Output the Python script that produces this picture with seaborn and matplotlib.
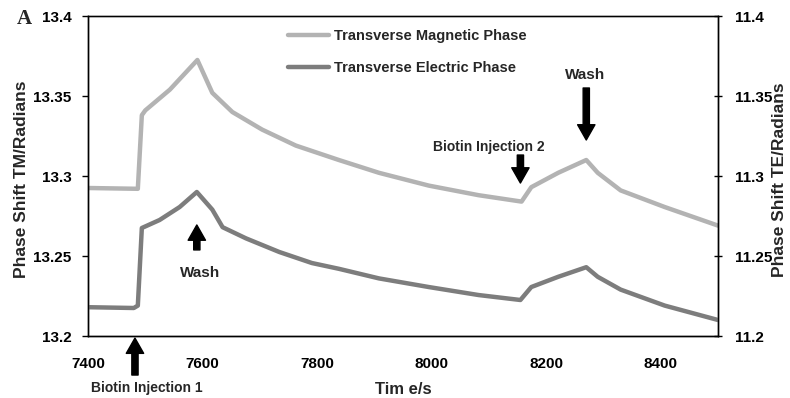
import numpy as np
import pandas as pd
import matplotlib
matplotlib.use("Agg")
import matplotlib.pyplot as plt
import seaborn as sns
from matplotlib.lines import Line2D

# ---- data ----
time_tm = [7400, 7487, 7494, 7500, 7543, 7591, 7617, 7652, 7704, 7763, 7838,
           7908, 7995, 8082, 8157, 8174, 8221, 8270, 8290, 8330, 8407, 8500]
phase_tm = [13.2925, 13.2920, 13.338, 13.341, 13.354, 13.3725, 13.352, 13.340,
            13.329, 13.319, 13.310, 13.302, 13.294, 13.288, 13.284, 13.293,
            13.302, 13.310, 13.302, 13.291, 13.2806, 13.269]

time_te = [7400, 7480, 7487, 7494, 7525, 7560, 7590, 7617, 7635, 7676, 7734,
           7791, 7838, 7908, 7995, 8082, 8155, 8174, 8221, 8270, 8290, 8330,
           8407, 8500]
phase_te = [11.218, 11.2175, 11.219, 11.2675, 11.2725, 11.2806, 11.290, 11.279,
            11.268, 11.261, 11.2525, 11.2456, 11.242, 11.236, 11.2306, 11.2256,
            11.2225, 11.2306, 11.237, 11.243, 11.237, 11.229, 11.219, 11.210]

series_labels = ["Transverse Magnetic Phase", "Transverse Electric Phase"]
x_ticks = [7400, 7600, 7800, 8000, 8200, 8400]
yl_ticks = [13.2, 13.25, 13.3, 13.35, 13.4]
yr_ticks = [11.2, 11.25, 11.3, 11.35, 11.4]
yl_ticklabels = ["13.2", "13.25", "13.3", "13.35", "13.4"]
yr_ticklabels = ["11.2", "11.25", "11.3", "11.35", "11.4"]

df_tm = pd.DataFrame({"t": time_tm, "p": phase_tm})
df_te = pd.DataFrame({"t": time_te, "p": phase_te})

sns.set_style("white")
FONT = ["Liberation Sans", "DejaVu Sans"]
plt.rcParams["font.family"] = FONT

C_TM = "#b3b3b3"
C_TE = "#7d7d7d"
LW = 3.2

fig = plt.figure(figsize=(7.9, 3.98), dpi=100)
ax = fig.add_axes([88/790, 1-336/398, 630/790, 320/398])
ax2 = ax.twinx()

sns.lineplot(data=df_tm, x="t", y="p", ax=ax, color=C_TM, linewidth=LW,
             legend=False, estimator=None, sort=False)
sns.lineplot(data=df_te, x="t", y="p", ax=ax2, color=C_TE, linewidth=LW,
             legend=False, estimator=None, sort=False)

ax.set_xlim(7400, 8500)
ax.set_ylim(13.2, 13.4)
ax2.set_ylim(11.2, 11.4)
ax.set_xticks(x_ticks)
ax.set_xticklabels([str(v) for v in x_ticks])
ax.set_yticks(yl_ticks)
ax.set_yticklabels(yl_ticklabels)
ax2.set_yticks(yr_ticks)
ax2.set_yticklabels(yr_ticklabels)

for lab in ax.get_xticklabels() + ax.get_yticklabels() + ax2.get_yticklabels():
    lab.set_fontsize(11)
    lab.set_fontweight("bold")

ax.tick_params(axis="y", direction="out", length=4, width=1, pad=8, colors="black")
ax.tick_params(axis="x", direction="out", length=4, width=1, pad=11, colors="black")
ax2.tick_params(axis="y", direction="inout", length=6, width=1, pad=9, colors="black")

for a in (ax, ax2):
    for s in a.spines.values():
        s.set_visible(True)
        s.set_color("black")
        s.set_linewidth(1.0)
ax.spines["top"].set_color("#444444")

ax.set_xlabel("Tim e/s", fontsize=12, fontweight="bold")
ax.xaxis.set_label_coords(0.5, (336-382)/320)
ax.set_ylabel("Phase Shift TM/Radians", fontsize=12.5, fontweight="bold")
ax.yaxis.set_label_coords((29-88)/630, 0.49)
ax2.set_ylabel("Phase Shift TE/Radians", fontsize=12.5, fontweight="bold")
ax2.yaxis.set_label_coords((772-88)/630, 0.49)

# legend
handles = [Line2D([], [], color=C_TM, linewidth=LW),
           Line2D([], [], color=C_TE, linewidth=LW)]
ax2.legend(handles, series_labels, loc="upper left",
           bbox_to_anchor=(288/790, 1-29/398), bbox_transform=fig.transFigure,
           frameon=False, handlelength=2.8, handletextpad=0.35,
           labelspacing=1.25, borderpad=0, borderaxespad=0,
           prop=dict(family=FONT, size=10.5, weight="bold"))

# arrows and annotation text
arrow_kw = dict(facecolor="black", edgecolor="black", width=4.5,
                headwidth=12.5, headlength=11, shrink=0)
bio_font = dict(fontsize=10, fontweight="bold", ha="center", va="center")
wash_font = dict(fontsize=11, fontweight="bold", ha="center", va="center")

ax.annotate("", xy=(7482, 13.1987), xytext=(7482, 13.1756),
            arrowprops=arrow_kw, annotation_clip=False)
ax.text(7503, 13.1675, "Biotin Injection 1", clip_on=False, **bio_font)

ax.annotate("", xy=(7590, 13.2694), xytext=(7590, 13.2538), arrowprops=arrow_kw)
ax.text(7595, 13.2394, "Wash", **wash_font)

ax.annotate("", xy=(8155, 13.2956), xytext=(8155, 13.3131), arrowprops=arrow_kw)
ax.text(8099, 13.318, "Biotin Injection 2", **bio_font)

ax.annotate("", xy=(8270, 13.3225), xytext=(8270, 13.355), arrowprops=arrow_kw)
ax.text(8268, 13.363, "Wash", **wash_font)

fig.text(17/790, 1-19/398, "A", fontsize=15, fontweight="bold",
         family=["Liberation Serif", "DejaVu Serif"], ha="left", va="center")

fig.savefig("out.png", dpi=100)
